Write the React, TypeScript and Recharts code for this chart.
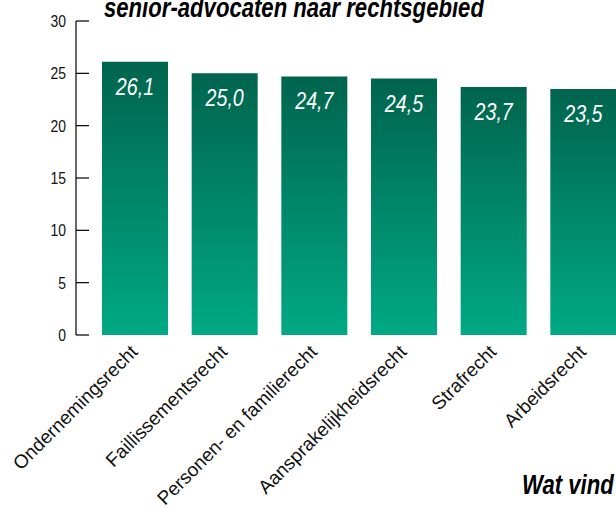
import React from "react";
import { BarChart, Bar, XAxis, YAxis, LabelList } from "recharts";

// rechtsgebieden en waarden
const categories = [
  "Ondernemingsrecht",
  "Faillissementsrecht",
  "Personen- en familierecht",
  "Aansprakelijkheidsrecht",
  "Strafrecht",
  "Arbeidsrecht",
];
const values = [26.1, 25.0, 24.7, 24.5, 23.7, 23.5];
const yTicks = [0, 5, 10, 15, 20, 25, 30];

const titleText = "senior-advocaten naar rechtsgebied";
const footerText = "Wat vind";

const data = categories.map((name, i) => ({ name, value: values[i] }));

const SANS = '"Liberation Sans", Arial, sans-serif';
// geen smalle letter beschikbaar, dus horizontaal samendrukken
const NARROW = 0.82;

const fmt = (v: number) => v.toFixed(1).replace(".", ",");

function YTick(props: any) {
  const { x, y, payload } = props;
  return (
    <g>
      <line x1={x + 10} x2={x + 23} y1={y} y2={y} stroke="#000" strokeWidth={1.2} />
      <g transform={`translate(${x},${y}) scale(${NARROW},1)`}>
        <text x={0} y={0} dy="0.36em" textAnchor="end" fontFamily={SANS} fontSize={17} fill="#111">
          {payload.value}
        </text>
      </g>
    </g>
  );
}

function XTick(props: any) {
  const { x, y, payload } = props;
  return (
    <g transform={`translate(${x + 4},${y + 18}) rotate(-45)`}>
      <text x={0} y={0} textAnchor="end" fontFamily={SANS} fontSize={19} fill="#111">
        {payload.value}
      </text>
    </g>
  );
}

function ValueLabel(props: any) {
  const { x, y, width, value } = props;
  return (
    <g transform={`translate(${x + width / 2},${y + 33}) scale(${NARROW},1)`}>
      <text x={0} y={0} textAnchor="middle" fontFamily={SANS} fontStyle="italic" fontSize={24} fill="#fff">
        {fmt(Number(value))}
      </text>
    </g>
  );
}

export default function App() {
  return (
    <div
      style={{
        position: "absolute",
        left: 0,
        top: 0,
        width: 616,
        height: 508,
        overflow: "hidden",
        background: "#fff",
      }}
    >
      <BarChart
        width={628}
        height={508}
        data={data}
        margin={{ top: 21, right: 0, left: 0, bottom: 0 }}
      >
        <defs>
          <linearGradient id="barGrad" x1="0" y1="0" x2="0" y2="1">
            <stop offset="0%" stopColor="#00644d" />
            <stop offset="100%" stopColor="#00a985" />
          </linearGradient>
        </defs>
        <XAxis
          dataKey="name"
          height={173}
          axisLine={false}
          tickLine={false}
          tickSize={0}
          tickMargin={0}
          interval={0}
          padding={{ left: 14, right: 0 }}
          tick={<XTick />}
        />
        <YAxis
          width={76}
          domain={[0, 30]}
          ticks={yTicks}
          interval={0}
          tickLine={false}
          tickSize={0}
          tickMargin={10}
          axisLine={{ stroke: "#000", strokeWidth: 1.2 }}
          tick={<YTick />}
        />
        <Bar dataKey="value" fill="url(#barGrad)" barSize={66} isAnimationActive={false}>
          <LabelList dataKey="value" content={<ValueLabel />} />
        </Bar>
      </BarChart>
      <svg
        width={616}
        height={508}
        style={{ position: "absolute", left: 0, top: 0, pointerEvents: "none" }}
      >
        <g transform={`translate(104,17) scale(${NARROW},1)`}>
          <text x={0} y={0} fontFamily={SANS} fontWeight="bold" fontStyle="italic" fontSize={27} fill="#000">
            {titleText}
          </text>
        </g>
        <g transform={`translate(522,494) scale(${NARROW},1)`}>
          <text x={0} y={0} fontFamily={SANS} fontWeight="bold" fontStyle="italic" fontSize={27} fill="#000">
            {footerText}
          </text>
        </g>
      </svg>
    </div>
  );
}
